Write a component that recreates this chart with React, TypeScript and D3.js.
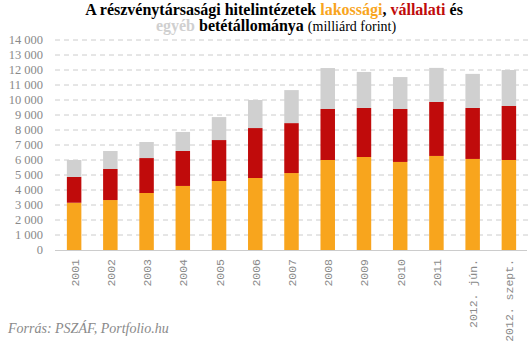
import React from "react";
import * as d3 from "d3";

const categories = ["2001", "2002", "2003", "2004", "2005", "2006", "2007", "2008", "2009", "2010", "2011", "2012. jún.", "2012. szept."];
const lakossagi = [3150, 3330, 3800, 4270, 4600, 4800, 5130, 6000, 6200, 5870, 6270, 6070, 6000];
const vallalati = [1720, 2070, 2330, 2330, 2730, 3330, 3330, 3400, 3270, 3530, 3600, 3400, 3600];
const egyeb = [1130, 1200, 1070, 1270, 1530, 1870, 2200, 2730, 2400, 2130, 2270, 2270, 2400];
const yTicks = [0, 1000, 2000, 3000, 4000, 5000, 6000, 7000, 8000, 9000, 10000, 11000, 12000, 13000, 14000];
const seriesNames = ["lakossagi", "vallalati", "egyeb"];
const colors = ["#F8A51D", "#C00B0B", "#D0D0D0"];

const W = 531, H = 342;

export default function App() {
  const x = d3.scaleBand<string>().domain(categories).range([56, 527]).paddingInner(0.6).paddingOuter(0.3);
  const y = d3.scaleLinear().domain([0, 14000]).range([250, 40]);
  const rows = categories.map((c, i) => ({ cat: c, lakossagi: lakossagi[i], vallalati: vallalati[i], egyeb: egyeb[i] }));
  const stack = d3.stack<any>().keys(seriesNames)(rows);
  const fmt = (v: number) => (v >= 1000 ? `${Math.floor(v / 1000)} ${String(v % 1000).padStart(3, "0")}` : String(v));
  return (
    <svg width={W} height={H} style={{ position: "absolute", left: 0, top: 0, background: "#fff" }}>
      <g fontFamily="Liberation Serif, serif" fontWeight="bold" fontSize={16} textAnchor="middle">
        <text x={274} y={15}>
          A részvénytársasági hitelintézetek <tspan fill={colors[0]}>lakossági</tspan>, <tspan fill={colors[1]}>vállalati</tspan> és
        </text>
        <text x={276} y={31}>
          <tspan fill={colors[2]}>egyéb</tspan> betétállománya <tspan fontWeight="normal" fontSize={14}> (milliárd forint)</tspan>
        </text>
      </g>
      {yTicks.map((t) => (
        <g key={t}>
          {t > 0 && <line x1={55} x2={531} y1={y(t)} y2={y(t)} stroke="#cccccc" strokeWidth={1} strokeDasharray="5,4" />}
          <text x={43} y={y(t) + 4} textAnchor="end" fontFamily="Liberation Serif, serif" fontSize={12.5} fill="#8a8a8a">{fmt(t)}</text>
        </g>
      ))}
      {stack.map((s, si) => (
        <g key={si} fill={colors[si]}>
          {s.map((d, i) => (
            <rect key={i} x={x(categories[i])} width={x.bandwidth()} y={y(d[1])} height={y(d[0]) - y(d[1])} />
          ))}
        </g>
      ))}
      <line x1={55} x2={527} y1={250.5} y2={250.5} stroke="#cccccc" strokeWidth={1} />
      {categories.map((c) => {
        const cx = (x(c) as number) + x.bandwidth() / 2;
        return (
          <text key={c} transform={`translate(${cx + 4.5},${259}) rotate(-90)`} textAnchor="end" fontFamily="Liberation Mono, monospace" fontSize={11.5} fill="#8a8a8a">{c}</text>
        );
      })}
      <text x={8} y={333} fontFamily="Liberation Serif, serif" fontStyle="italic" fontSize={14} fill="#8a8a8a">Forrás: PSZÁF, Portfolio.hu</text>
    </svg>
  );
}
